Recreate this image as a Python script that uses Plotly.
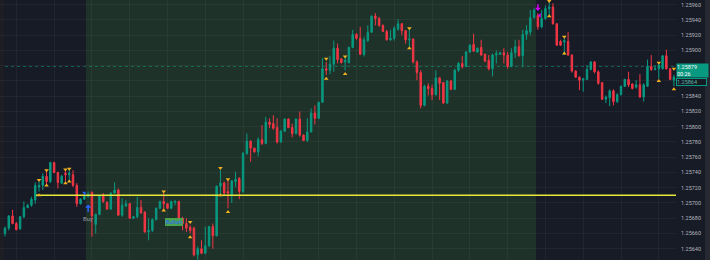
import plotly.graph_objects as go

# ---------------- data ----------------
IDX = list(range(178))

OPEN = [
    1.25660, 1.25667, 1.25683, 1.25673, 1.25666, 1.25682, 1.25694, 1.25697, 1.25704, 1.25721,
    1.25723, 1.25735, 1.25728, 1.25753, 1.25740, 1.25726, 1.25739, 1.25737, 1.25737, 1.25723,
    1.25699, 1.25705, 1.25709, 1.25714, 1.25672, 1.25685, 1.25710, 1.25701, 1.25692, 1.25713,
    1.25717, 1.25684, 1.25696, 1.25699, 1.25680, 1.25682, 1.25694, 1.25688, 1.25662, 1.25664,
    1.25678, 1.25693, 1.25702, 1.25699, 1.25693, 1.25701, 1.25702, 1.25680, 1.25673, 1.25668,
    1.25667, 1.25632, 1.25640, 1.25634, 1.25644, 1.25669, 1.25657, 1.25722, 1.25726, 1.25715,
    1.25710, 1.25728, 1.25732, 1.25715, 1.25765, 1.25781, 1.25772, 1.25767, 1.25783, 1.25778,
    1.25806, 1.25804, 1.25799, 1.25780, 1.25794, 1.25810, 1.25799, 1.25791, 1.25810, 1.25789,
    1.25782, 1.25793, 1.25818, 1.25811, 1.25832, 1.25876, 1.25874, 1.25882, 1.25903, 1.25889,
    1.25885, 1.25884, 1.25904, 1.25921, 1.25916, 1.25895, 1.25913, 1.25924, 1.25945, 1.25942,
    1.25933, 1.25925, 1.25914, 1.25916, 1.25928, 1.25935, 1.25926, 1.25914, 1.25915, 1.25885,
    1.25871, 1.25828, 1.25853, 1.25850, 1.25842, 1.25864, 1.25858, 1.25831, 1.25860, 1.25849,
    1.25874, 1.25883, 1.25879, 1.25898, 1.25908, 1.25898, 1.25904, 1.25895, 1.25887, 1.25876,
    1.25894, 1.25895, 1.25897, 1.25894, 1.25879, 1.25897, 1.25905, 1.25893, 1.25921, 1.25924,
    1.25943, 1.25946, 1.25931, 1.25942, 1.25955, 1.25957, 1.25935, 1.25912, 1.25911, 1.25912,
    1.25894, 1.25873, 1.25865, 1.25861, 1.25862, 1.25875, 1.25885, 1.25872, 1.25858, 1.25836,
    1.25838, 1.25847, 1.25833, 1.25842, 1.25853, 1.25862, 1.25856, 1.25852, 1.25855, 1.25839,
    1.25853, 1.25879, 1.25875, 1.25876, 1.25876, 1.25893, 1.25876, 1.25861,
]
HIGH = [
    1.25669, 1.25684, 1.25691, 1.25675, 1.25683, 1.25702, 1.25699, 1.25708, 1.25727, 1.25728,
    1.25739, 1.25743, 1.25754, 1.25754, 1.25741, 1.25737, 1.25743, 1.25745, 1.25743, 1.25726,
    1.25706, 1.25713, 1.25715, 1.25715, 1.25686, 1.25710, 1.25713, 1.25702, 1.25714, 1.25727,
    1.25719, 1.25706, 1.25704, 1.25700, 1.25683, 1.25708, 1.25704, 1.25689, 1.25680, 1.25680,
    1.25694, 1.25703, 1.25713, 1.25700, 1.25703, 1.25704, 1.25703, 1.25682, 1.25680, 1.25671,
    1.25669, 1.25643, 1.25651, 1.25669, 1.25670, 1.25673, 1.25723, 1.25743, 1.25728, 1.25730,
    1.25730, 1.25741, 1.25734, 1.25767, 1.25791, 1.25782, 1.25772, 1.25786, 1.25802, 1.25813,
    1.25811, 1.25815, 1.25811, 1.25796, 1.25811, 1.25811, 1.25804, 1.25811, 1.25820, 1.25790,
    1.25811, 1.25824, 1.25828, 1.25833, 1.25890, 1.25885, 1.25893, 1.25913, 1.25909, 1.25890,
    1.25892, 1.25905, 1.25927, 1.25923, 1.25931, 1.25918, 1.25933, 1.25946, 1.25949, 1.25944,
    1.25934, 1.25927, 1.25927, 1.25932, 1.25941, 1.25936, 1.25927, 1.25927, 1.25916, 1.25887,
    1.25874, 1.25855, 1.25857, 1.25855, 1.25874, 1.25865, 1.25858, 1.25861, 1.25861, 1.25876,
    1.25885, 1.25893, 1.25899, 1.25908, 1.25922, 1.25904, 1.25914, 1.25896, 1.25894, 1.25896,
    1.25900, 1.25898, 1.25903, 1.25898, 1.25903, 1.25914, 1.25914, 1.25927, 1.25933, 1.25953,
    1.25955, 1.25949, 1.25953, 1.25959, 1.25966, 1.25962, 1.25936, 1.25914, 1.25916, 1.25924,
    1.25895, 1.25874, 1.25866, 1.25864, 1.25881, 1.25886, 1.25886, 1.25874, 1.25858, 1.25841,
    1.25849, 1.25849, 1.25844, 1.25854, 1.25863, 1.25872, 1.25857, 1.25861, 1.25869, 1.25857,
    1.25888, 1.25894, 1.25881, 1.25883, 1.25894, 1.25901, 1.25877, 1.25868,
]
LOW = [
    1.25656, 1.25664, 1.25672, 1.25664, 1.25665, 1.25680, 1.25693, 1.25695, 1.25699, 1.25715,
    1.25717, 1.25723, 1.25726, 1.25739, 1.25719, 1.25725, 1.25728, 1.25728, 1.25721, 1.25695,
    1.25698, 1.25704, 1.25707, 1.25656, 1.25660, 1.25684, 1.25700, 1.25691, 1.25691, 1.25712,
    1.25683, 1.25682, 1.25695, 1.25679, 1.25679, 1.25680, 1.25686, 1.25661, 1.25651, 1.25662,
    1.25677, 1.25692, 1.25689, 1.25692, 1.25692, 1.25697, 1.25673, 1.25664, 1.25662, 1.25660,
    1.25630, 1.25625, 1.25633, 1.25633, 1.25642, 1.25640, 1.25656, 1.25708, 1.25710, 1.25693,
    1.25700, 1.25721, 1.25705, 1.25713, 1.25763, 1.25754, 1.25766, 1.25761, 1.25776, 1.25777,
    1.25798, 1.25796, 1.25778, 1.25779, 1.25793, 1.25798, 1.25786, 1.25790, 1.25787, 1.25781,
    1.25780, 1.25793, 1.25803, 1.25810, 1.25831, 1.25868, 1.25869, 1.25872, 1.25883, 1.25883,
    1.25874, 1.25883, 1.25903, 1.25914, 1.25894, 1.25892, 1.25911, 1.25923, 1.25933, 1.25931,
    1.25924, 1.25913, 1.25913, 1.25913, 1.25926, 1.25920, 1.25909, 1.25905, 1.25883, 1.25861,
    1.25824, 1.25827, 1.25841, 1.25835, 1.25841, 1.25835, 1.25830, 1.25830, 1.25848, 1.25848,
    1.25872, 1.25876, 1.25878, 1.25897, 1.25898, 1.25897, 1.25893, 1.25885, 1.25874, 1.25866,
    1.25883, 1.25894, 1.25883, 1.25876, 1.25878, 1.25890, 1.25892, 1.25879, 1.25914, 1.25920,
    1.25942, 1.25927, 1.25929, 1.25940, 1.25946, 1.25934, 1.25906, 1.25906, 1.25894, 1.25893,
    1.25871, 1.25864, 1.25848, 1.25846, 1.25861, 1.25874, 1.25870, 1.25855, 1.25835, 1.25831,
    1.25827, 1.25828, 1.25831, 1.25841, 1.25852, 1.25852, 1.25849, 1.25850, 1.25838, 1.25833,
    1.25852, 1.25873, 1.25874, 1.25863, 1.25875, 1.25875, 1.25861, 1.25853,
]
CLOSE = [
    1.25667, 1.25683, 1.25673, 1.25665, 1.25682, 1.25694, 1.25697, 1.25705, 1.25723, 1.25723,
    1.25735, 1.25728, 1.25753, 1.25740, 1.25727, 1.25735, 1.25737, 1.25739, 1.25723, 1.25699,
    1.25705, 1.25710, 1.25711, 1.25683, 1.25685, 1.25709, 1.25702, 1.25692, 1.25713, 1.25717,
    1.25684, 1.25697, 1.25699, 1.25680, 1.25682, 1.25694, 1.25687, 1.25662, 1.25664, 1.25678,
    1.25693, 1.25702, 1.25699, 1.25693, 1.25702, 1.25702, 1.25680, 1.25673, 1.25667, 1.25664,
    1.25632, 1.25640, 1.25634, 1.25644, 1.25669, 1.25657, 1.25722, 1.25726, 1.25713, 1.25713,
    1.25729, 1.25731, 1.25715, 1.25765, 1.25781, 1.25772, 1.25767, 1.25783, 1.25778, 1.25806,
    1.25803, 1.25798, 1.25780, 1.25794, 1.25810, 1.25799, 1.25791, 1.25810, 1.25789, 1.25782,
    1.25793, 1.25818, 1.25811, 1.25832, 1.25876, 1.25874, 1.25882, 1.25903, 1.25888, 1.25884,
    1.25887, 1.25904, 1.25921, 1.25916, 1.25895, 1.25914, 1.25924, 1.25945, 1.25942, 1.25933,
    1.25925, 1.25914, 1.25916, 1.25929, 1.25935, 1.25926, 1.25914, 1.25915, 1.25885, 1.25871,
    1.25828, 1.25853, 1.25850, 1.25842, 1.25864, 1.25857, 1.25831, 1.25860, 1.25849, 1.25874,
    1.25883, 1.25879, 1.25898, 1.25907, 1.25899, 1.25903, 1.25894, 1.25886, 1.25876, 1.25894,
    1.25896, 1.25897, 1.25894, 1.25879, 1.25897, 1.25905, 1.25893, 1.25921, 1.25926, 1.25943,
    1.25953, 1.25931, 1.25942, 1.25955, 1.25957, 1.25935, 1.25907, 1.25907, 1.25913, 1.25894,
    1.25873, 1.25865, 1.25861, 1.25863, 1.25875, 1.25885, 1.25872, 1.25857, 1.25836, 1.25839,
    1.25847, 1.25833, 1.25842, 1.25853, 1.25862, 1.25855, 1.25850, 1.25855, 1.25839, 1.25855,
    1.25879, 1.25875, 1.25876, 1.25881, 1.25893, 1.25876, 1.25862, 1.25865,
]

# fractal-style markers
MARK_IDX = [9, 11, 16, 17, 42, 49, 57, 59, 85, 90, 107, 144, 148, 173, 177]
MARK_UP = [1.25730, 1.25743, 1.25744, 1.25745, 1.25715, 1.25675, 1.25746, 1.25731,
           1.25889, 1.25892, 1.25929, 1.25965, 1.25918, 1.25884, 1.25876]
MARK_DN = [1.25710, 1.25723, 1.25726, 1.25728, 1.25690, 1.25655, 1.25710, 1.25688,
           1.25863, 1.25869, 1.25903, 1.25945, 1.25896, 1.25860, 1.25849]

LEVEL_PRICE = 1.25710
LEVEL_START = 8.2
SESSION_START = 21.4
SESSION_END = 140.5
LAST_PRICE = 1.25879
LAST_PRICE_TEXT = "1.25879"
COUNTDOWN_TEXT = "00:26"
SECOND_PRICE_TEXT = "1.25864"

BUY_IDX, BUY_PRICE = 22, 1.25698
BUY_MARK_IDX, BUY_MARK_PRICE = 21, 1.25713
BULLISH_IDX, BULLISH_PRICE = 44.8, 1.256745
SELL_IDX, SELL_PRICE = 141, 1.25952
SELL_MARK_PRICE = 1.25946

TICK_VALUES = [1.2564 + 0.0002 * k for k in range(17)]
# 1.25860 and 1.25880 sit under the price labels in the reference, so they show no text
TICK_TEXT = ["1.25640", "1.25660", "1.25680", "1.25700", "1.25720", "1.25740", "1.25760",
             "1.25780", "1.25800", "1.25820", "1.25840", "", "", "1.25900",
             "1.25920", "1.25940", "1.25960"]
GRID_X = list(range(3, 178, 10))

# ---------------- styles ----------------
UP = "#089981"
DOWN = "#f23645"
BG = "#171b26"
SESSION_BG = "#1f3229"
GRID = "rgba(255,255,255,0.045)"
YELLOW = "#e8e83a"
MARK = "#f2b01e"
FONT = "Roboto"

fig = go.Figure()

fig.add_trace(go.Candlestick(
    x=IDX, open=OPEN, high=HIGH, low=LOW, close=CLOSE,
    increasing=dict(line=dict(color=UP, width=1), fillcolor=UP),
    decreasing=dict(line=dict(color=DOWN, width=1), fillcolor=DOWN),
    whiskerwidth=0, showlegend=False, hoverinfo="skip",
))

fig.add_trace(go.Scatter(
    x=[LEVEL_START, IDX[-1] + 2], y=[LEVEL_PRICE, LEVEL_PRICE], mode="lines",
    line=dict(color=YELLOW, width=1.5), showlegend=False, hoverinfo="skip",
))

fig.add_trace(go.Scatter(
    x=MARK_IDX, y=MARK_UP, mode="markers",
    marker=dict(symbol="triangle-down", size=4, color=MARK), showlegend=False, hoverinfo="skip",
))
fig.add_trace(go.Scatter(
    x=MARK_IDX, y=MARK_DN, mode="markers",
    marker=dict(symbol="triangle-up", size=4, color=MARK), showlegend=False, hoverinfo="skip",
))
fig.add_trace(go.Scatter(
    x=[BUY_MARK_IDX], y=[BUY_MARK_PRICE], mode="markers",
    marker=dict(symbol="triangle-ne", size=4, color="#2962ff"), showlegend=False, hoverinfo="skip",
))
fig.add_trace(go.Scatter(
    x=[SELL_IDX + 0.5], y=[SELL_MARK_PRICE], mode="markers",
    marker=dict(symbol="triangle-left", size=4, color="#d500f9"), showlegend=False, hoverinfo="skip",
))

shapes = [
    dict(type="rect", xref="x", yref="paper", x0=SESSION_START, x1=SESSION_END, y0=0, y1=1,
         fillcolor=SESSION_BG, line=dict(width=0), layer="below"),
    dict(type="rect", xref="paper", yref="paper", x0=0, x1=4 / 676, y0=0, y1=1,
         fillcolor="#1c1e24", line=dict(width=0), layer="below"),
    dict(type="rect", xref="paper", yref="paper", x0=705 / 676, x1=710 / 676, y0=0, y1=1,
         fillcolor="#262932", line=dict(width=0), layer="above"),
    dict(type="line", xref="paper", yref="y", x0=5 / 676, x1=1, y0=LAST_PRICE, y1=LAST_PRICE,
         line=dict(color="rgba(8,153,129,0.55)", width=1, dash="dot"), layer="below"),
]

annotations = [
    dict(x=BUY_IDX, y=BUY_PRICE, xref="x", yref="y", text="", showarrow=True,
         arrowhead=1, arrowsize=0.7, arrowwidth=1.5, arrowcolor="#2962ff", ax=0, ay=9),
    dict(x=BUY_IDX, y=1.25680, xref="x", yref="y", text="Buy", showarrow=False,
         font=dict(family=FONT, size=6, color="#9598a1")),
    dict(x=BULLISH_IDX, y=BULLISH_PRICE, xref="x", yref="y", text="Bullish", showarrow=False,
         font=dict(family=FONT, size=5.5, color="#2962ff"), bgcolor="rgba(76,175,80,0.9)",
         borderwidth=0, borderpad=0, width=18, height=8),
    dict(x=SELL_IDX, y=SELL_PRICE, xref="x", yref="y", text="", showarrow=True,
         arrowhead=1, arrowsize=0.7, arrowwidth=1.5, arrowcolor="#d500f9", ax=0, ay=-8),
    dict(x=1, y=1 - 62.7 / 260, xref="paper", yref="paper", xanchor="left", yanchor="top",
         text=LAST_PRICE_TEXT + "<br>" + COUNTDOWN_TEXT, showarrow=False, align="left",
         font=dict(family=FONT, size=5.5, color="#ffffff"), bgcolor=UP,
         width=31, height=13, borderpad=0),
    dict(x=1, y=1 - 77.5 / 260, xref="paper", yref="paper", xanchor="left", yanchor="top",
         text=SECOND_PRICE_TEXT, showarrow=False, align="left",
         font=dict(family=FONT, size=5.5, color="#5fb7a6"), bgcolor=BG,
         bordercolor=UP, borderwidth=1, width=29, height=6, borderpad=0),
]

fig.update_layout(
    width=710, height=260,
    margin=dict(l=0, r=34, t=0, b=0),
    paper_bgcolor=BG, plot_bgcolor=BG,
    boxgap=0.45,
    showlegend=False,
    shapes=shapes,
    annotations=annotations,
    font=dict(family=FONT, color="#b2b5be"),
    xaxis=dict(range=[-1.32, 177.55], showticklabels=False, ticks="", tickvals=GRID_X,
               showgrid=True, gridcolor=GRID, gridwidth=1, zeroline=False,
               rangeslider=dict(visible=False), fixedrange=True, showline=False),
    yaxis=dict(range=[1.256252, 1.259662], side="right", tickvals=TICK_VALUES, ticktext=TICK_TEXT,
               showgrid=True, gridcolor=GRID, gridwidth=1, zeroline=False, ticks="",
               ticklabelstandoff=4, tickfont=dict(family=FONT, size=5.5, color="#b2b5be"),
               fixedrange=True, showline=False),
)

fig.write_html("out.html")
